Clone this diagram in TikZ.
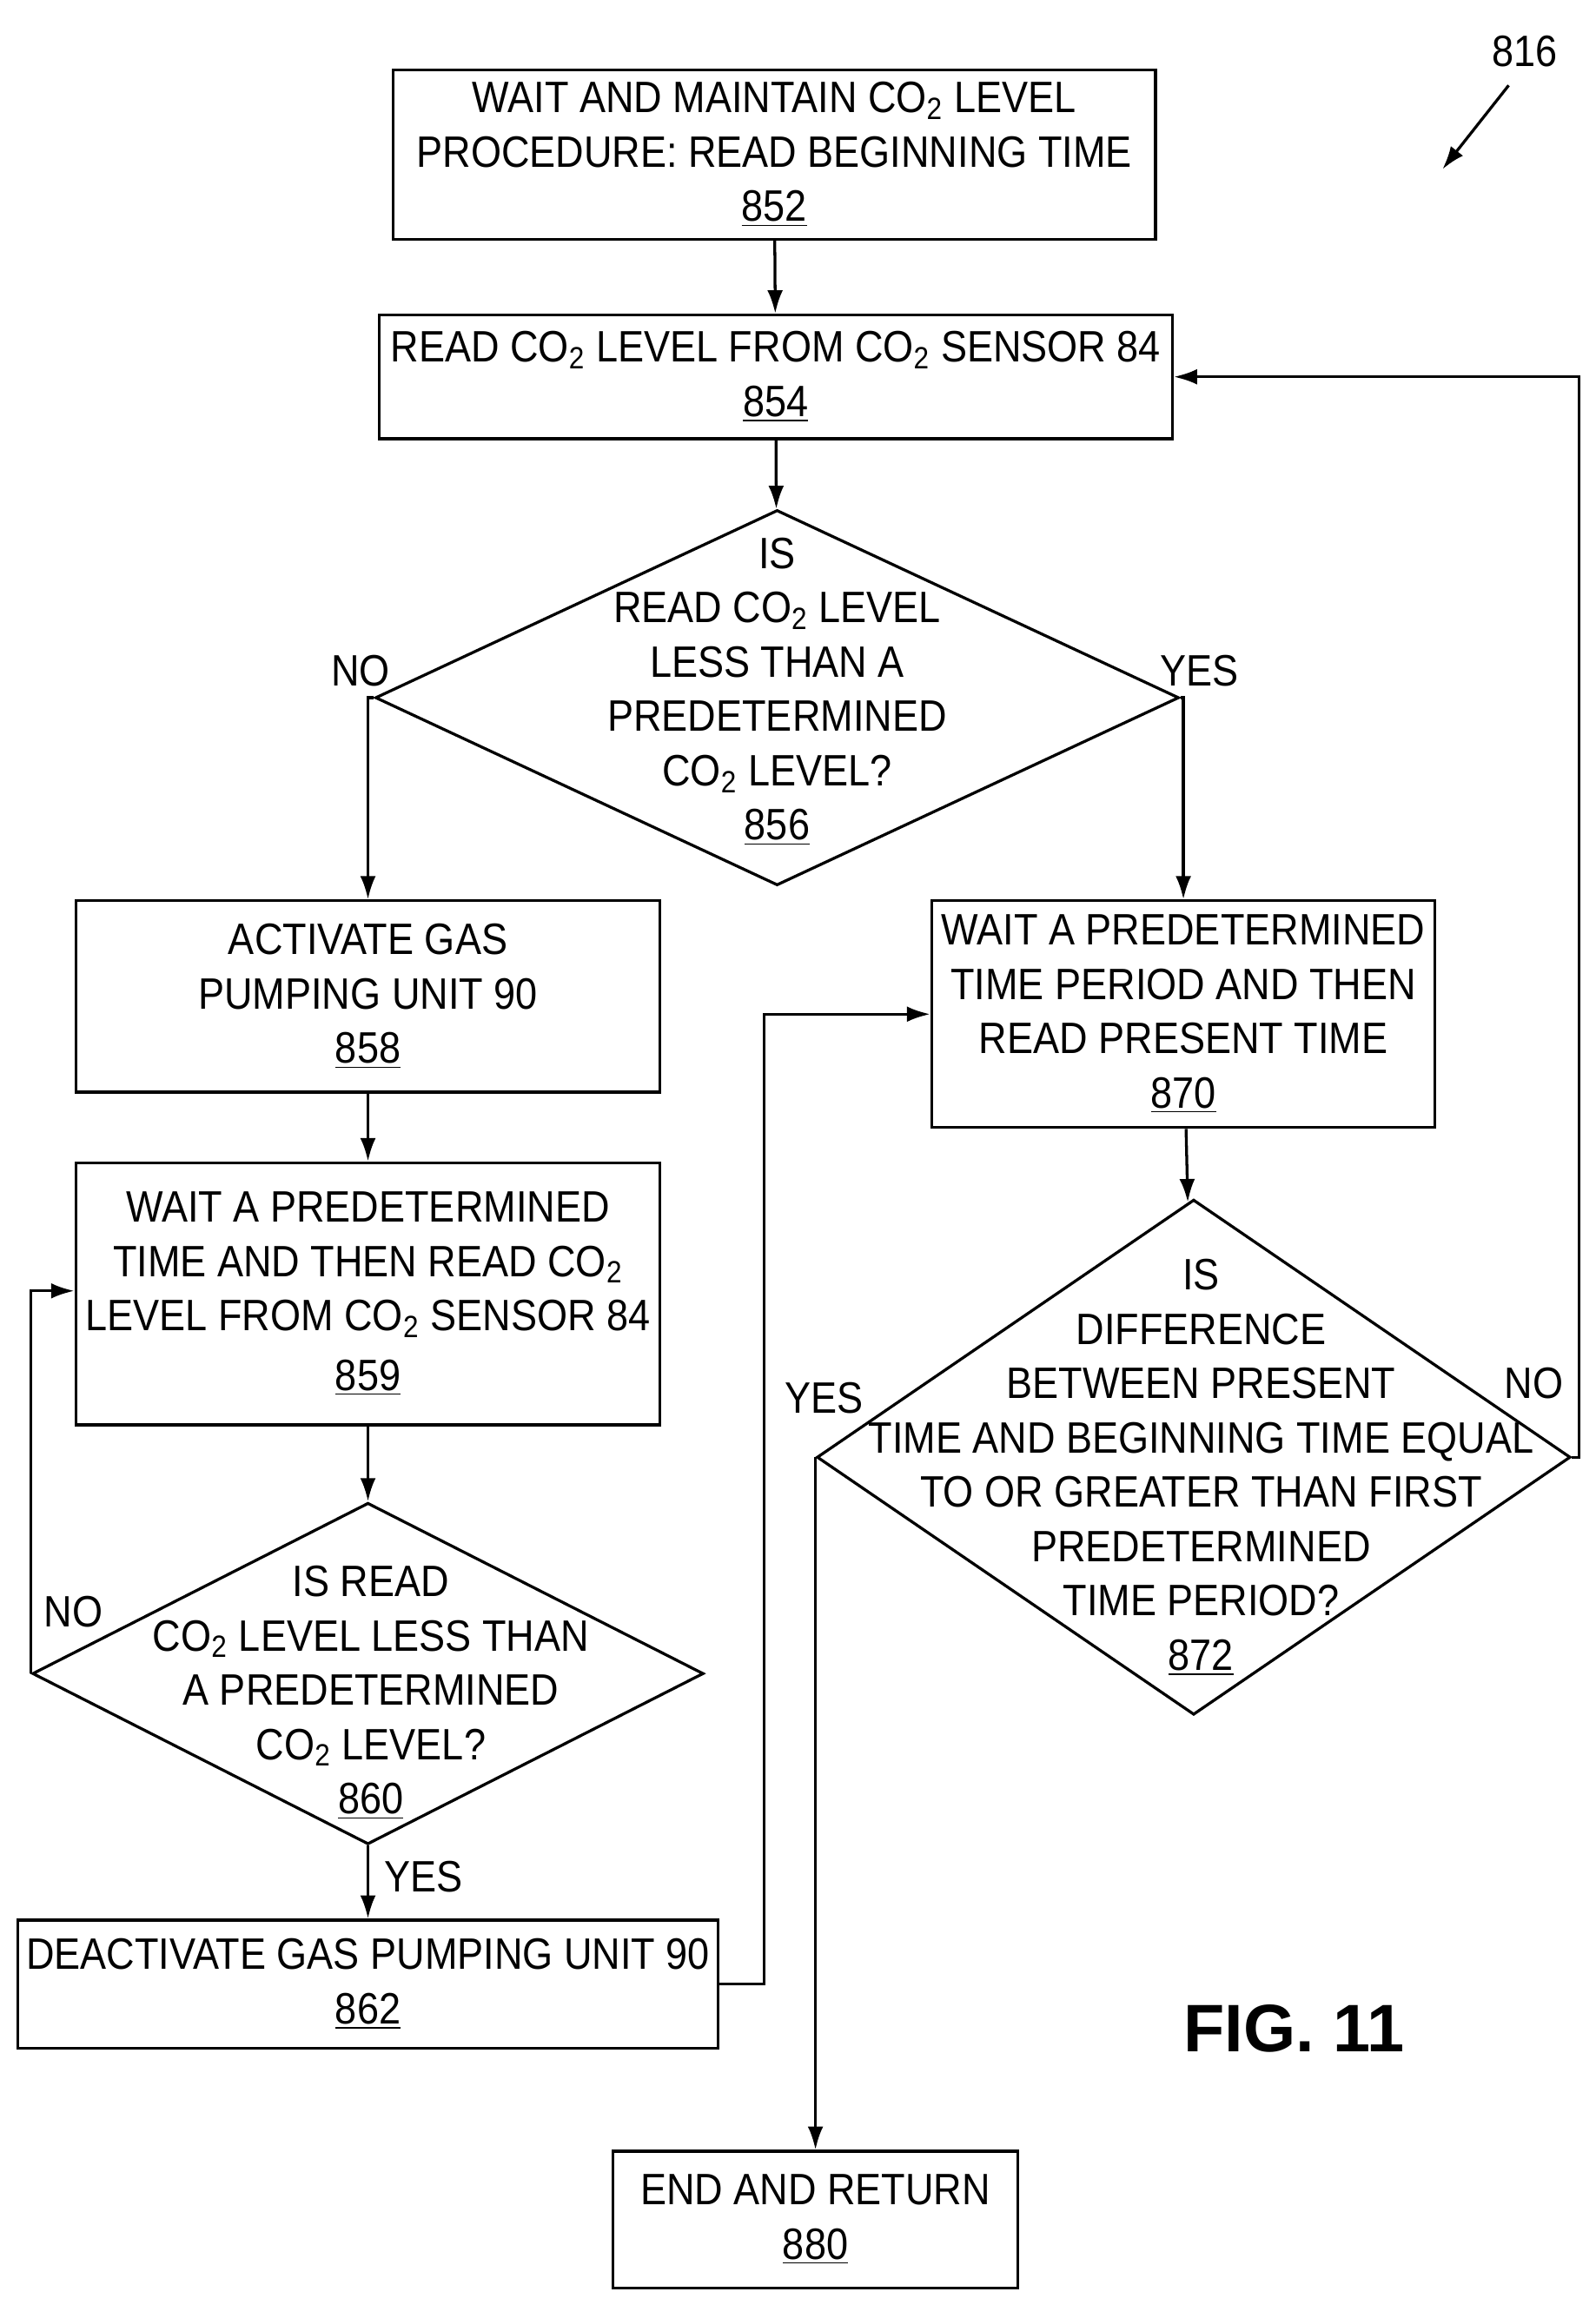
\documentclass[tikz,border=0pt]{standalone}
\usepackage{fontspec}
\setmainfont{Liberation Sans}[FakeStretch=0.89]
\newfontfamily\figfont{Liberation Sans}
\usepackage{tikz}
\usetikzlibrary{positioning,shapes.geometric,arrows.meta}

\newcommand{\cotwo}{CO\textsubscript{2}}

\begin{document}
\begin{tikzpicture}[x=0.02cm, y=-0.02cm,
    font=\fontsize{17}{21}\selectfont,
    box/.style={rectangle, draw, line width=1.1pt, align=center, inner sep=2pt},
    dec/.style={diamond, draw, line width=1.1pt, inner sep=0pt},
    txt/.style={align=center, inner sep=0pt},
    arrow/.style={-{Latex[length=9pt,width=6pt]}, line width=1.1pt}
]
\useasboundingbox (0,0) rectangle (1084,1566);

% process boxes
\node[box, minimum width=518*0.02cm, minimum height=115*0.02cm] (a852) at (526,105)
  {WAIT AND MAINTAIN \cotwo{} LEVEL\\PROCEDURE: READ BEGINNING TIME\\\underline{852}};
\node[box, minimum width=539*0.02cm, minimum height=84*0.02cm] (a854) at (527,256)
  {READ \cotwo{} LEVEL FROM \cotwo{} SENSOR 84\\\underline{854}};
\node[box, minimum width=397*0.02cm, minimum height=130*0.02cm] (a858) at (250,677)
  {ACTIVATE GAS\\PUMPING UNIT 90\\\underline{858}};
\node[box, minimum width=397*0.02cm, minimum height=178*0.02cm] (a859) at (250,879)
  {WAIT A PREDETERMINED\\TIME AND THEN READ \cotwo{}\\LEVEL FROM \cotwo{} SENSOR 84\\[2pt]\underline{859}};
\node[box, minimum width=476*0.02cm, minimum height=87*0.02cm] (a862) at (250,1348)
  {DEACTIVATE GAS PUMPING UNIT 90\\\underline{862}};
\node[box, minimum width=342*0.02cm, minimum height=154*0.02cm] (a870) at (804,689)
  {WAIT A PREDETERMINED\\TIME PERIOD AND THEN\\READ PRESENT TIME\\\underline{870}};
\node[box, minimum width=275*0.02cm, minimum height=93*0.02cm] (a880) at (554,1508)
  {END AND RETURN\\\underline{880}};

% decisions
\node[dec, minimum width=546*0.02cm, minimum height=255*0.02cm] (d856) at (528,474) {};
\node[txt] (t856) at (528,470)
  {IS\\READ \cotwo{} LEVEL\\LESS THAN A\\PREDETERMINED\\\cotwo{} LEVEL?\\\underline{856}};
\node[dec, minimum width=456*0.02cm, minimum height=232*0.02cm] (d860) at (250,1137) {};
\node[txt] (t860) at (252,1150)
  {IS READ\\\cotwo{} LEVEL LESS THAN\\A PREDETERMINED\\\cotwo{} LEVEL?\\\underline{860}};
\node[dec, minimum width=512*0.02cm, minimum height=350*0.02cm] (d872) at (811,990) {};
\node[txt] (t872) at (816,997)
  {IS\\DIFFERENCE\\BETWEEN PRESENT\\TIME AND BEGINNING TIME EQUAL\\TO OR GREATER THAN FIRST\\PREDETERMINED\\TIME PERIOD?\\\underline{872}};

% connectors
\draw[arrow] (a852) -- (a854);
\draw[arrow] (a854) -- (d856);
\draw[arrow] (d856.west) -| (a858.north);
\draw[arrow] (d856.east) -| (a870.north);
\draw[arrow] (a858) -- (a859);
\draw[arrow] (a859) -- (d860);
\draw[arrow] (d860) -- (a862);
\draw[arrow] (d860.west) -- ++(0,-260) -- (a859.west |- 0,877);
\draw[arrow] (a862.east) -- ++(30,0) |- (a870.west);
\draw[arrow] (a870) -- (d872);
\draw[arrow] (d872.east) -- ++(5,0) |- (a854.east);
\draw[arrow] (d872.west) -- (d872.west |- a880.north);

% labels
\node at (245,456) {NO};
\node at (815,456) {YES};
\node at (50,1095) {NO};
\node at (288,1275) {YES};
\node at (560,950) {YES};
\node at (1042,940) {NO};

\node (r816) at (1036,35) {816};
\coordinate (r816t) at (980,115);
\draw[arrow] (1025,58) -- (r816t);
\node[font=\figfont\fontsize{26}{30}\selectfont\bfseries] (fig) at (879,1378) {FIG. 11};
\end{tikzpicture}
\end{document}
